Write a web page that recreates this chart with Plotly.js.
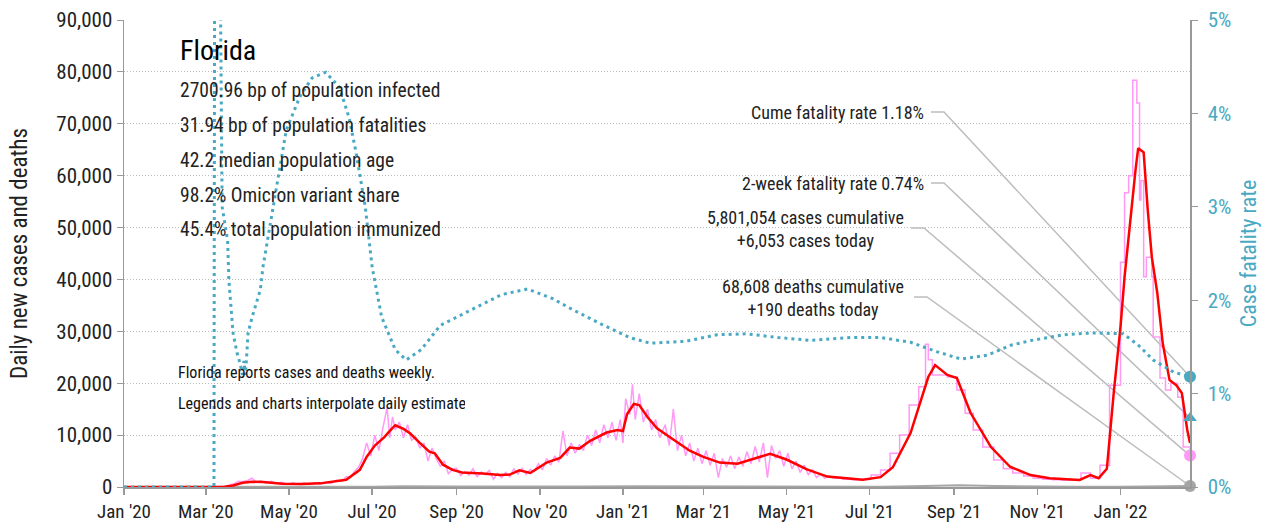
<!DOCTYPE html>
<html><head><meta charset="utf-8">
<script src="https://cdn.plot.ly/plotly-3.0.1.min.js"></script>
<style>html,body{margin:0;padding:0;background:#fff}#chart{width:1266px;height:527px}
#chart text{font-stretch:condensed !important;}</style>
</head><body><div id="chart"></div>
<script>
// ---- Data ----
const redDates = ['2020-01-01','2020-03-01','2020-03-15','2020-03-21','2020-03-28','2020-04-04','2020-04-12','2020-04-26','2020-05-10','2020-05-24','2020-06-02','2020-06-12','2020-06-22','2020-06-27','2020-07-03','2020-07-10','2020-07-14','2020-07-18','2020-07-24','2020-07-29','2020-08-05','2020-08-12','2020-08-16','2020-08-22','2020-08-29','2020-09-05','2020-09-20','2020-10-03','2020-10-10','2020-10-17','2020-10-25','2020-11-06','2020-11-16','2020-11-23','2020-11-30','2020-12-08','2020-12-20','2020-12-28','2021-01-01','2021-01-04','2021-01-09','2021-01-13','2021-01-19','2021-01-26','2021-02-04','2021-02-12','2021-02-19','2021-03-01','2021-03-13','2021-03-26','2021-04-06','2021-04-19','2021-05-01','2021-05-16','2021-05-31','2021-06-19','2021-06-26','2021-07-09','2021-07-18','2021-07-31','2021-08-07','2021-08-13','2021-08-18','2021-08-22','2021-08-27','2021-09-03','2021-09-13','2021-09-28','2021-10-12','2021-10-27','2021-11-10','2021-12-02','2021-12-10','2021-12-16','2021-12-22','2021-12-27','2022-01-01','2022-01-04','2022-01-08','2022-01-12','2022-01-14','2022-01-18','2022-01-21','2022-01-24','2022-01-28','2022-02-01','2022-02-06','2022-02-11','2022-02-15','2022-02-19','2022-02-21'];
const redCases = [0,0,50,300,800,1000,950,650,600,700,1000,1400,3300,5800,8000,9600,10800,11900,11200,10300,8500,6800,6500,4300,3300,2800,2600,2300,2400,3200,2700,4700,5600,7600,7400,8900,10500,11000,10800,14000,16000,15800,13500,11300,9700,8200,7000,5800,4700,4500,5400,6400,5300,3400,2000,1600,1400,1900,3800,10400,16200,21200,23500,22700,21600,21000,14300,7700,3900,2300,1700,1350,2300,1700,3500,18000,30800,40500,51500,61000,65300,64500,53400,44300,37400,27700,20600,19600,18100,11000,8500];

const pinkDailyDates = ['2020-01-01','2020-03-01','2020-03-12','2020-03-16','2020-03-19','2020-03-22','2020-03-25','2020-03-28','2020-04-01','2020-04-04','2020-04-07','2020-04-10','2020-04-14','2020-04-18','2020-04-22','2020-04-26','2020-04-30','2020-05-04','2020-05-08','2020-05-12','2020-05-16','2020-05-20','2020-05-24','2020-05-28','2020-06-01','2020-06-05','2020-06-09','2020-06-12','2020-06-15','2020-06-18','2020-06-21','2020-06-24','2020-06-27','2020-06-30','2020-07-03','2020-07-06','2020-07-09','2020-07-12','2020-07-14','2020-07-16','2020-07-18','2020-07-21','2020-07-24','2020-07-27','2020-07-30','2020-08-02','2020-08-05','2020-08-08','2020-08-11','2020-08-14','2020-08-17','2020-08-20','2020-08-23','2020-08-26','2020-08-29','2020-09-01','2020-09-04','2020-09-07','2020-09-10','2020-09-13','2020-09-16','2020-09-19','2020-09-22','2020-09-25','2020-09-28','2020-10-01','2020-10-04','2020-10-07','2020-10-10','2020-10-13','2020-10-16','2020-10-19','2020-10-22','2020-10-25','2020-10-28','2020-10-31','2020-11-03','2020-11-06','2020-11-09','2020-11-12','2020-11-15','2020-11-18','2020-11-21','2020-11-24','2020-11-27','2020-11-30','2020-12-03','2020-12-06','2020-12-09','2020-12-12','2020-12-15','2020-12-18','2020-12-21','2020-12-24','2020-12-27','2020-12-30','2021-01-01','2021-01-03','2021-01-06','2021-01-08','2021-01-10','2021-01-13','2021-01-16','2021-01-19','2021-01-22','2021-01-25','2021-01-28','2021-02-01','2021-02-04','2021-02-07','2021-02-10','2021-02-13','2021-02-16','2021-02-19','2021-02-22','2021-02-25','2021-02-28','2021-03-03','2021-03-06','2021-03-09','2021-03-12','2021-03-15','2021-03-18','2021-03-21','2021-03-24','2021-03-27','2021-03-30','2021-04-02','2021-04-05','2021-04-08','2021-04-11','2021-04-14','2021-04-17','2021-04-20','2021-04-23','2021-04-26','2021-04-29','2021-05-02','2021-05-05','2021-05-08','2021-05-11','2021-05-14','2021-05-17','2021-05-20','2021-05-23','2021-05-26','2021-05-29','2021-06-01','2021-06-04'];
const pinkDailyCases = [0,0,50,150,400,700,1100,1000,1300,1700,900,1200,800,1100,700,900,550,800,500,750,500,800,600,900,700,1300,1100,2000,1800,3000,3800,5500,8500,6000,10000,7000,11500,15300,9500,13500,11000,12500,9500,12000,9000,9600,7500,8500,5000,7500,5500,4000,5000,2500,3500,3600,2200,3000,2300,3500,2000,2900,2400,3200,1500,2600,1800,2800,2000,3500,2500,3600,2400,3400,3000,4500,3300,5500,4200,6000,4800,10800,6000,8500,6500,8200,7000,10000,8000,11000,8500,12000,9500,12500,9000,13000,8500,17000,14000,19800,13000,18000,12500,15000,11000,13000,9500,12000,8000,15000,7000,10000,6000,8500,5000,7500,4500,7000,4200,6500,1800,5500,3800,6000,3500,5800,4000,6800,4500,7800,4800,8500,1800,8000,5500,7000,4000,6500,3500,5000,2800,4200,2400,3300,1800,2500,1700,2100,1700];

const pinkWeeklyDates = ['2021-06-04','2021-06-11','2021-06-18','2021-06-25','2021-07-02','2021-07-09','2021-07-16','2021-07-23','2021-07-30','2021-08-06','2021-08-11','2021-08-13','2021-08-16','2021-08-20','2021-08-27','2021-09-03','2021-09-09','2021-09-15','2021-09-22','2021-09-30','2021-10-07','2021-10-14','2021-10-22','2021-10-29','2021-11-05','2021-11-12','2021-11-19','2021-11-26','2021-12-03','2021-12-10','2021-12-17','2021-12-24','2022-01-01','2022-01-04','2022-01-07','2022-01-10','2022-01-13','2022-01-15','2022-01-16','2022-01-18','2022-01-20','2022-01-24','2022-01-25','2022-01-30','2022-02-03','2022-02-07','2022-02-12','2022-02-16','2022-02-21'];
const pinkWeeklyCases = [1700,1500,1400,1500,2300,3300,6500,10000,15800,19300,27500,24500,21600,21600,21200,18700,14200,11000,7700,5200,3500,2700,2100,1700,1500,1400,1300,1300,2700,1700,4200,19600,43300,56700,60000,78400,74000,55300,59000,40500,44300,40500,28900,21000,18700,20000,17300,7700,6053];

const deathDates = ['2020-01-01','2020-03-10','2020-04-05','2020-05-01','2020-06-01','2020-07-01','2020-07-25','2020-08-10','2020-09-01','2020-10-01','2020-11-01','2020-12-01','2021-01-10','2021-02-10','2021-03-10','2021-04-10','2021-05-10','2021-06-10','2021-07-10','2021-08-10','2021-09-05','2021-10-01','2021-11-01','2021-12-01','2022-01-01','2022-01-25','2022-02-10','2022-02-21'];
const deathVals = [0,0,40,45,35,50,150,180,110,80,55,90,160,140,70,55,50,40,45,200,360,200,70,35,50,180,210,190];

const cfrDates = ['2020-01-01','2020-03-07','2020-03-08','2020-03-10','2020-03-12','2020-03-13','2020-03-17','2020-03-18','2020-03-21','2020-03-24','2020-03-26','2020-03-28','2020-03-29','2020-03-30','2020-03-31','2020-04-01','2020-04-04','2020-04-10','2020-04-12','2020-04-17','2020-04-22','2020-04-29','2020-05-09','2020-05-18','2020-05-28','2020-06-07','2020-06-14','2020-06-19','2020-06-26','2020-07-01','2020-07-08','2020-07-18','2020-07-26','2020-08-06','2020-08-20','2020-09-04','2020-09-19','2020-10-04','2020-10-23','2020-11-10','2020-11-25','2020-12-18','2021-01-06','2021-01-21','2021-02-16','2021-03-11','2021-04-02','2021-04-25','2021-05-18','2021-06-17','2021-07-09','2021-07-31','2021-08-19','2021-09-06','2021-09-25','2021-10-13','2021-10-28','2021-11-20','2021-12-12','2022-01-03','2022-01-14','2022-01-25','2022-02-09','2022-02-21'];
const cfrVals = [0,0,12,8.5,4.6,3.0,2.64,2.2,1.65,1.43,1.33,1.2,1.35,1.2,1.4,1.65,1.82,2.11,2.36,2.8,3.25,3.82,4.18,4.38,4.44,4.28,3.96,3.6,3.0,2.36,1.82,1.47,1.36,1.47,1.73,1.84,1.95,2.06,2.12,2.02,1.9,1.73,1.6,1.54,1.56,1.63,1.64,1.6,1.57,1.6,1.6,1.55,1.45,1.37,1.41,1.52,1.57,1.63,1.65,1.64,1.52,1.36,1.23,1.18];

const twoWeekCfr = 0.74;
const lastCases = 6053;
const lastDeaths = 190;
const cumCases = '5,801,054';
const cumDeaths = '68,608';
const cumCfr = 1.18;

const statLines = ['2700.96 bp of population infected','31.94 bp of population fatalities','42.2 median population age','98.2% Omicron variant share','45.4% total population immunized'];
const noteLines = ['Florida reports cases and deaths weekly.','Legends and charts interpolate daily estimates.'];

// ---- Styling ----
const FONT = '"Noto Sans Condensed", "Roboto Condensed", "Open Sans Condensed", "Noto Sans", "DejaVu Sans Condensed", sans-serif';
const TEAL = '#4aa9c2';
const PINK = '#ff99f5';
const RED = '#ff0000';
const GREY = '#a6a6a6';
const LEAD = '#bdbdbd';

const xStart = '2020-01-01';
const lastDate = redDates[redDates.length - 1];
const yMax = 90000, y2Max = 5;

const traces = [
  {x: pinkDailyDates, y: pinkDailyCases, type: 'scatter', mode: 'lines', line: {color: PINK, width: 1.5}, hoverinfo: 'skip'},
  {x: pinkWeeklyDates, y: pinkWeeklyCases, type: 'scatter', mode: 'lines', line: {color: PINK, width: 1.5, shape: 'hv'}, hoverinfo: 'skip'},
  {x: deathDates, y: deathVals, type: 'scatter', mode: 'lines', line: {color: GREY, width: 2}, hoverinfo: 'skip'},
  {x: redDates, y: redCases, type: 'scatter', mode: 'lines', line: {color: RED, width: 2.5}, hoverinfo: 'skip'},
  {x: cfrDates, y: cfrVals, yaxis: 'y2', type: 'scatter', mode: 'lines', line: {color: TEAL, width: 3, dash: '3px,4px'}, hoverinfo: 'skip'},
  // end markers
  {x: [lastDate], y: [cfrVals[cfrVals.length-1]], yaxis: 'y2', mode: 'markers', marker: {color: TEAL, size: 12, symbol: 'circle'}, cliponaxis: false},
  {x: [lastDate], y: [twoWeekCfr], yaxis: 'y2', mode: 'markers', marker: {color: TEAL, size: 12, symbol: 'triangle-up'}, cliponaxis: false},
  {x: [lastDate], y: [lastCases], mode: 'markers', marker: {color: PINK, size: 12, symbol: 'circle'}, cliponaxis: false},
  {x: [lastDate], y: [lastDeaths], mode: 'markers', marker: {color: GREY, size: 12, symbol: 'circle'}, cliponaxis: false}
];

// plot-area geometry (pixels) used to place leader lines
const M = {l: 124, r: 76, t: 20, b: 40};
const W = 1266, H = 527;
const PW = W - M.l - M.r, PH = H - M.t - M.b;
const px = x => (x - M.l) / PW;
const py = y => (H - M.b - y) / PH;

const endX = 1; // last date is at right end of x range
const leaders = [
  {sx: 931, sy: 112, kx: 944, ey: cfrVals[cfrVals.length-1] / y2Max},
  {sx: 931, sy: 183, kx: 944, ey: twoWeekCfr / y2Max},
  {sx: 911, sy: 228, kx: 924, ey: lastCases / yMax},
  {sx: 914, sy: 297, kx: 927, ey: lastDeaths / yMax}
];
const shapes = leaders.map(d => ({
  type: 'path', xref: 'paper', yref: 'paper', layer: 'below',
  path: `M ${px(d.sx)},${py(d.sy)} L ${px(d.kx)},${py(d.sy)} L ${endX},${d.ey}`,
  line: {color: LEAD, width: 1.5}
}));

const annotations = [];
annotations.push({xref: 'paper', yref: 'paper', x: px(178), y: py(50), xanchor: 'left', yanchor: 'middle', text: 'Florida', showarrow: false, font: {family: FONT, size: 28, color: '#000'}});
statLines.forEach((t, i) => annotations.push({xref: 'paper', yref: 'paper', x: px(178), y: py(90 + 35 * i), xanchor: 'left', yanchor: 'middle', text: t, showarrow: false, font: {family: FONT, size: 19.5, color: '#222'}}));
annotations.push({xref: 'paper', yref: 'paper', x: px(176), y: py(372), xanchor: 'left', yanchor: 'middle', text: noteLines[0], showarrow: false, font: {family: FONT, size: 16, color: '#111'}});
annotations.push({xref: 'paper', yref: 'paper', x: px(176), y: py(403), xanchor: 'left', yanchor: 'middle', text: noteLines[1], showarrow: false, width: 287, align: 'left', font: {family: FONT, size: 16, color: '#111'}});

annotations.push({xref: 'paper', yref: 'paper', x: px(926), y: py(112), xanchor: 'right', yanchor: 'middle', text: 'Cume fatality rate ' + cumCfr.toFixed(2) + '%', showarrow: false, font: {family: FONT, size: 18, color: '#222'}});
annotations.push({xref: 'paper', yref: 'paper', x: px(926), y: py(183), xanchor: 'right', yanchor: 'middle', text: '2-week fatality rate ' + twoWeekCfr.toFixed(2) + '%', showarrow: false, font: {family: FONT, size: 18, color: '#222'}});
annotations.push({xref: 'paper', yref: 'paper', x: px(805), y: py(229), xanchor: 'center', yanchor: 'middle', align: 'center', text: cumCases + ' cases cumulative<br>+' + lastCases.toLocaleString('en-US') + ' cases today', showarrow: false, font: {family: FONT, size: 18, color: '#222'}});
annotations.push({xref: 'paper', yref: 'paper', x: px(813), y: py(298), xanchor: 'center', yanchor: 'middle', align: 'center', text: cumDeaths + ' deaths cumulative<br>+' + lastDeaths + ' deaths today', showarrow: false, font: {family: FONT, size: 18, color: '#222'}});

const layout = {
  width: W, height: H,
  margin: M,
  paper_bgcolor: '#fff', plot_bgcolor: '#fff',
  showlegend: false,
  font: {family: FONT, color: '#222'},
  xaxis: {
    type: 'date', range: [xStart, lastDate],
    tick0: xStart, dtick: 'M2', tickformat: "%b '%y",
    showgrid: false, zeroline: false,
    showline: true, linecolor: '#999', linewidth: 2,
    ticks: 'outside', ticklen: 6, tickcolor: '#999', tickwidth: 1.5,
    tickfont: {family: FONT, size: 19, color: '#222'}
  },
  yaxis: {
    range: [0, yMax], dtick: 10000, tickformat: ',d',
    showgrid: true, gridcolor: '#bbb', griddash: '1px,2px', gridwidth: 1,
    zeroline: false, showline: true, linecolor: '#999', linewidth: 1.5,
    ticks: 'outside', ticklen: 6, tickcolor: '#999',
    tickfont: {family: FONT, size: 21, color: '#222'},
    title: {text: 'Daily new cases and deaths', font: {family: FONT, size: 23, color: '#222'}, standoff: 22}
  },
  yaxis2: {
    overlaying: 'y', side: 'right', range: [0, y2Max], dtick: 1, ticksuffix: '%',
    showgrid: false, zeroline: false, showline: true, linecolor: '#999', linewidth: 1.5,
    ticks: 'outside', ticklen: 6, tickcolor: '#999', ticklabelstandoff: 6,
    tickfont: {family: FONT, size: 21, color: TEAL},
    title: {text: 'Case fatality rate', font: {family: FONT, size: 22, color: TEAL}, standoff: 10}
  },
  shapes: shapes,
  annotations: annotations
};

Plotly.newPlot('chart', traces, layout, {displayModeBar: false, staticPlot: true});
</script>
</body></html>
